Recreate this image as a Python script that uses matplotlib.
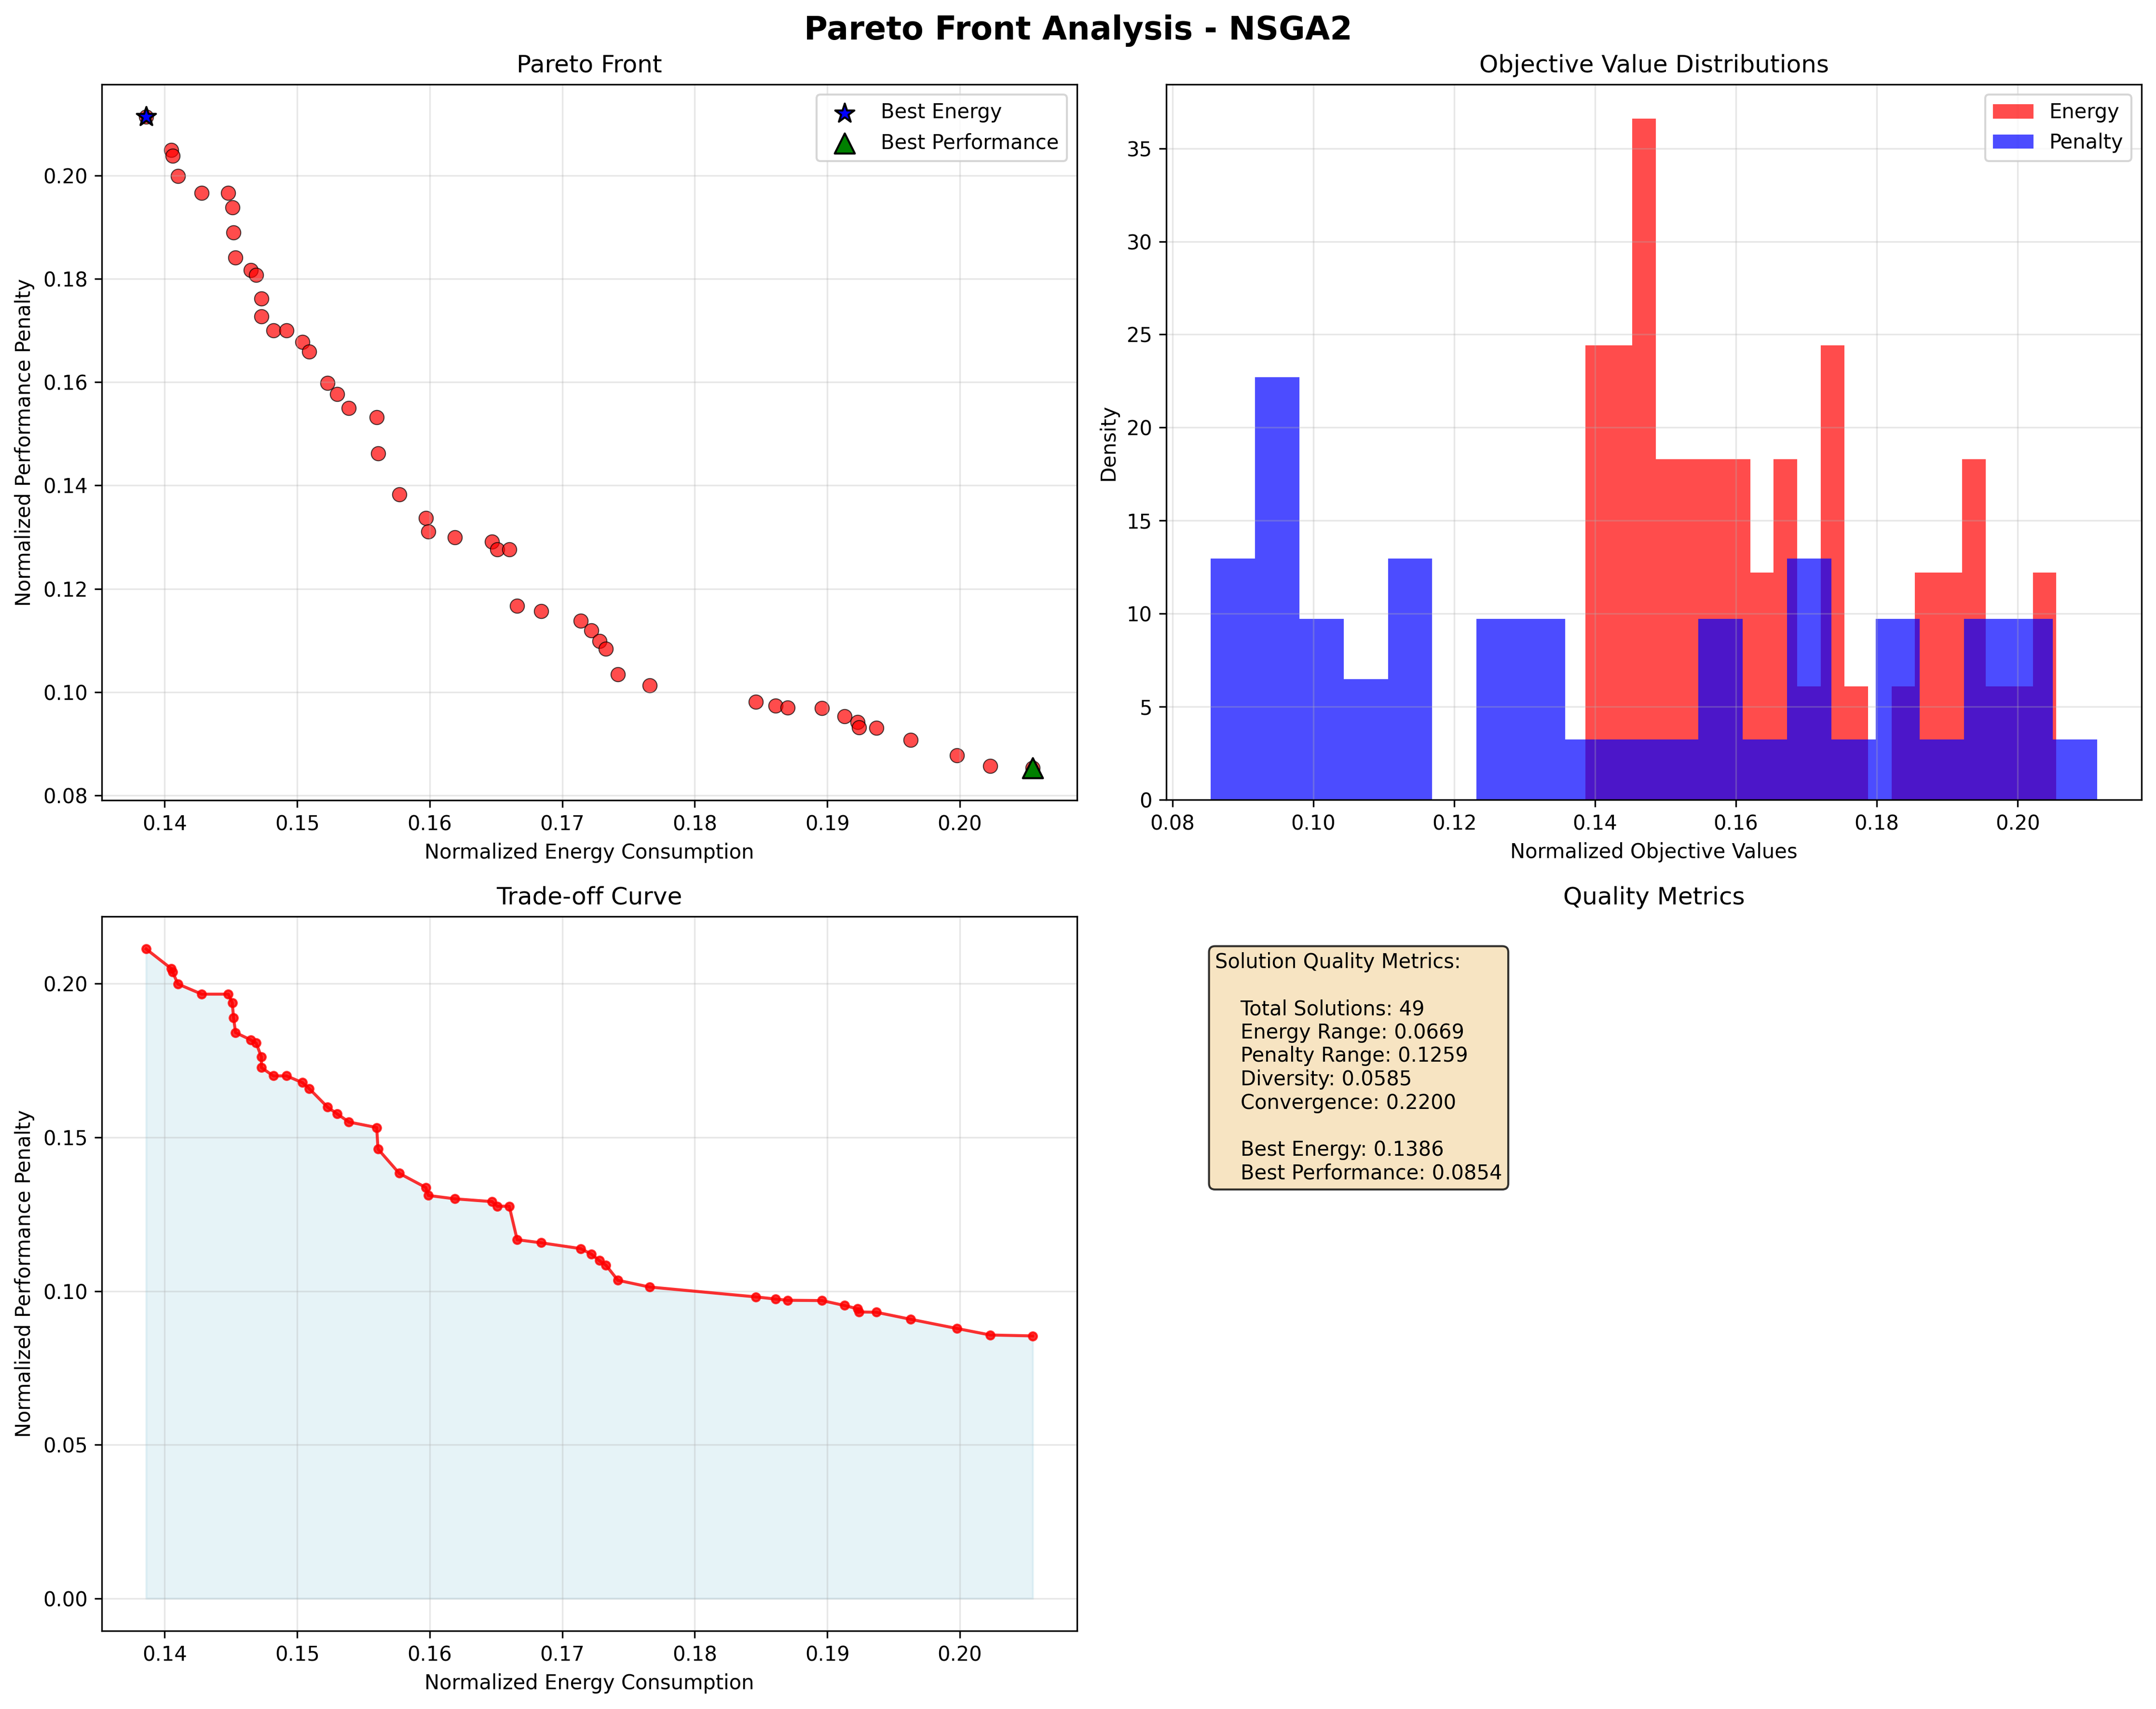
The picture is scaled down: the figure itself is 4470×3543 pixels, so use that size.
import numpy as np
import matplotlib
matplotlib.use("Agg")
import matplotlib.pyplot as plt

# ---- data -------------------------------------------------------------
energy = [0.1386, 0.1405, 0.1406, 0.1410, 0.1428, 0.1448, 0.1451, 0.1452,
          0.14535, 0.1465, 0.1469, 0.1473, 0.1473, 0.1482, 0.1492, 0.1504,
          0.1509, 0.1523, 0.1530, 0.1539, 0.1560, 0.1561, 0.1577, 0.1597,
          0.1599, 0.1619, 0.1647, 0.1651, 0.1660, 0.1666, 0.1684, 0.1714,
          0.1722, 0.1728, 0.1733, 0.1742, 0.1766, 0.1846, 0.1861, 0.1870,
          0.1896, 0.1913, 0.1923, 0.1924, 0.1937, 0.1963, 0.1998, 0.2023,
          0.2055]
penalty = [0.2113, 0.2049, 0.2038, 0.1999, 0.1966, 0.1966, 0.1938, 0.1889,
           0.1841, 0.1817, 0.1807, 0.1762, 0.1727, 0.1700, 0.1700, 0.1678,
           0.1659, 0.1598, 0.1577, 0.1550, 0.1532, 0.1462, 0.1383, 0.1337,
           0.1311, 0.1300, 0.1291, 0.1276, 0.1276, 0.1167, 0.1157, 0.1138,
           0.1120, 0.1099, 0.1084, 0.1035, 0.1013, 0.0981, 0.0974, 0.0970,
           0.0969, 0.0953, 0.0942, 0.0932, 0.0931, 0.0908, 0.0878, 0.0857,
           0.0854]

metric_names = ["Total Solutions", "Energy Range", "Penalty Range",
                "Diversity", "Convergence"]
metric_values = ["49", "0.0669", "0.1259", "0.0585", "0.2200"]
best_energy_value = "0.1386"
best_perf_value = "0.0854"

E = np.array(energy)
P = np.array(penalty)

# ---- figure -----------------------------------------------------------
W, H = 4470, 3543
fig = plt.figure(figsize=(W / 300, H / 300), dpi=300)

def px_axes(x0, y0, x1, y1):
    return fig.add_axes([x0 / W, 1 - y1 / H, (x1 - x0) / W, (y1 - y0) / H])

ax1 = px_axes(211, 175, 2233, 1659)
ax2 = px_axes(2418, 175, 4440, 1658)
ax3 = px_axes(211, 1900, 2233, 3381)
ax4 = px_axes(2418, 1900, 4440, 3381)

fig.text(0.5, 1 - 82 / H, "Pareto Front Analysis - NSGA2", ha="center",
         va="baseline", fontsize=16, fontweight="bold")

# Pareto front scatter
ax1.scatter(E, P, c="red", s=50, alpha=0.7, edgecolors="black", linewidths=0.5)
ib = int(np.argmin(E))
ip = int(np.argmin(P))
ax1.scatter(E[ib], P[ib], marker="*", s=100, c="blue", edgecolors="black",
            linewidths=1, label="Best Energy", zorder=5)
ax1.scatter(E[ip], P[ip], marker="^", s=100, c="green", edgecolors="black",
            linewidths=1, label="Best Performance", zorder=5)
ax1.set_xlabel("Normalized Energy Consumption")
ax1.set_ylabel("Normalized Performance Penalty")
ax1.set_title("Pareto Front")
ax1.legend(loc="upper right")
ax1.grid(True, alpha=0.3)

# Distributions
ax2.hist(E, bins=20, alpha=0.7, color="red", density=True, label="Energy")
ax2.hist(P, bins=20, alpha=0.7, color="blue", density=True, label="Penalty")
ax2.set_xlabel("Normalized Objective Values")
ax2.set_ylabel("Density")
ax2.set_title("Objective Value Distributions")
ax2.legend(loc="upper right")
ax2.grid(True, alpha=0.3)

# Trade-off curve
order = np.argsort(E)
ax3.plot(E[order], P[order], "r-o", markersize=4, alpha=0.8)
ax3.fill_between(E[order], P[order], alpha=0.3, color="lightblue")
ax3.set_xlabel("Normalized Energy Consumption")
ax3.set_ylabel("Normalized Performance Penalty")
ax3.set_title("Trade-off Curve")
ax3.grid(True, alpha=0.3)

# Quality metrics
ax4.axis("off")
lines = ["Solution Quality Metrics:", "    "]
for n, v in zip(metric_names, metric_values):
    lines.append(f"    {n}: {v}")
lines.append("    ")
lines.append(f"    Best Energy: {best_energy_value}")
lines.append(f"    Best Performance: {best_perf_value}")
ax4.text(0.05, 0.95, "\n".join(lines), transform=ax4.transAxes, fontsize=10,
         va="top", bbox=dict(boxstyle="round", facecolor="wheat", alpha=0.8))
ax4.set_title("Quality Metrics")

fig.savefig("out.png", dpi=300)
